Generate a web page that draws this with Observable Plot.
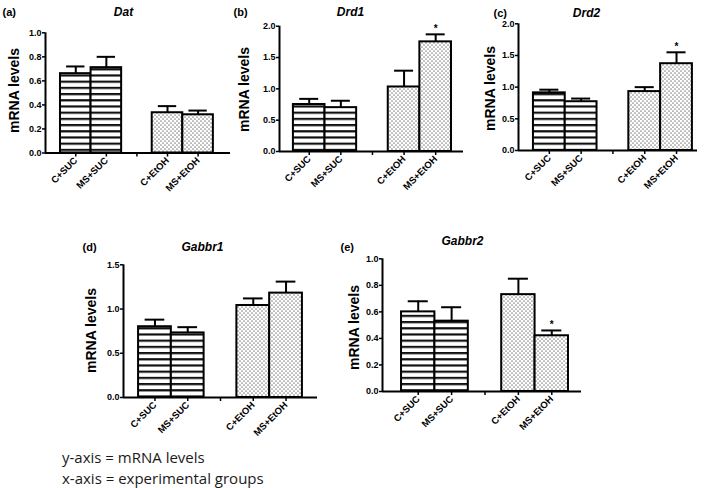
<!DOCTYPE html>
<html><head><meta charset="utf-8">
<script src="https://cdn.jsdelivr.net/npm/d3@7"></script>
<script src="https://cdn.jsdelivr.net/npm/@observablehq/plot@0.6"></script>
<style>
html,body{margin:0;padding:0;background:#fff;}
#chart{position:relative;width:709px;height:488px;overflow:hidden;background:#fff;}
.panel{position:absolute;}
.note{position:absolute;left:62px;font-family:"Open Sans",sans-serif;font-size:15px;color:#1a1a1a;white-space:nowrap;line-height:15px;}
</style></head><body>
<div id="chart">
<svg width="0" height="0" style="position:absolute;left:0;top:0"><defs>
<pattern id="hstripes" patternUnits="userSpaceOnUse" width="8" height="6.2"><rect width="8" height="6.2" fill="#fff"/><rect y="0" width="8" height="2.2" fill="#111"/></pattern>
<pattern id="dots" patternUnits="userSpaceOnUse" width="4" height="4"><rect width="4" height="4" fill="#fff"/><circle cx="1" cy="1" r="0.85" fill="#8a8a8a"/><circle cx="3" cy="3" r="0.85" fill="#8a8a8a"/></pattern>
</defs></svg>
<div class="note" style="top:450px">y-axis = mRNA levels</div>
<div class="note" style="top:471px">x-axis = experimental groups</div>
</div>
<script>
// ---- data ----
const groups = ["C+SUC", "MS+SUC", "C+EtOH", "MS+EtOH"];
const slotOf = [0, 1, 3, 4];           // slot 2 is the gap between the two groups
const yLabel = "mRNA levels";

const genes = ["Dat", "Drd1", "Drd2", "Gabbr1", "Gabbr2"];
const letters = ["(a)", "(b)", "(c)", "(d)", "(e)"];

const datMean = [0.66, 0.71, 0.335, 0.318];
const datSem  = [0.06, 0.09, 0.055, 0.035];
const datSig  = [false, false, false, false];

const drd1Mean = [0.75, 0.70, 1.03, 1.75];
const drd1Sem  = [0.09, 0.11, 0.26, 0.12];
const drd1Sig  = [false, false, false, true];

const drd2Mean = [0.91, 0.77, 0.93, 1.37];
const drd2Sem  = [0.05, 0.05, 0.07, 0.18];
const drd2Sig  = [false, false, false, true];

const gabbr1Mean = [0.80, 0.73, 1.04, 1.18];
const gabbr1Sem  = [0.08, 0.065, 0.08, 0.13];
const gabbr1Sig  = [false, false, false, false];

const gabbr2Mean = [0.60, 0.53, 0.73, 0.42];
const gabbr2Sem  = [0.08, 0.105, 0.12, 0.04];
const gabbr2Sig  = [false, false, false, true];

const ticks10 = [0, 0.2, 0.4, 0.6, 0.8, 1.0];
const ticks20 = [0, 0.5, 1.0, 1.5, 2.0];
const ticks15 = [0, 0.5, 1.0, 1.5];

// ---- layout ----
const panels = [
  {gene: genes[0], letter: letters[0], mean: datMean, sem: datSem, sig: datSig, ymax: 1, yTicks: ticks10,
   left: 0, top: 0, axisX0: 45, axisX1: 230, yTop: 32.3, baseline: 152.5, xDomain: [-0.99, 5.06],
   letterPos: [2, 12], titlePos: [123, 12], ylabPos: [14, 90]},
  {gene: genes[1], letter: letters[1], mean: drd1Mean, sem: drd1Sem, sig: drd1Sig, ymax: 2, yTicks: ticks20,
   left: 231, top: 0, axisX0: 279, axisX1: 463, yTop: 25.7, baseline: 151, xDomain: [-0.94, 4.88],
   letterPos: [233, 12], titlePos: [350, 12], ylabPos: [244, 89]},
  {gene: genes[2], letter: letters[2], mean: drd2Mean, sem: drd2Sem, sig: drd2Sig, ymax: 2, yTicks: ticks20,
   left: 478, top: 0, axisX0: 518, axisX1: 697, yTop: 23.3, baseline: 150, xDomain: [-0.97, 4.66],
   letterPos: [493, 13], titlePos: [586, 13], ylabPos: [490, 88]},
  {gene: genes[3], letter: letters[3], mean: gabbr1Mean, sem: gabbr1Sem, sig: gabbr1Sig, ymax: 1.5, yTicks: ticks15,
   left: 75, top: 228, axisX0: 123, axisX1: 317, yTop: 264.3, baseline: 397, xDomain: [-0.96, 4.96],
   letterPos: [82, 247], titlePos: [202, 247], ylabPos: [91, 330]},
  {gene: genes[4], letter: letters[4], mean: gabbr2Mean, sem: gabbr2Sem, sig: gabbr2Sig, ymax: 1, yTicks: ticks10,
   left: 335, top: 228, axisX0: 382, axisX1: 581, yTop: 258.3, baseline: 391, xDomain: [-1.07, 4.89],
   letterPos: [340, 247], titlePos: [462, 241], ylabPos: [354, 327]}
];

const FONT = "Liberation Sans, Arial, sans-serif";
const chart = document.getElementById("chart");

for (const p of panels) {
  const data = groups.map((g, i) => ({group: g, slot: slotOf[i], mean: p.mean[i], sem: p.sem[i], sig: p.sig[i], suc: i < 2}));
  const marginLeft = p.axisX0 - p.left;
  const marginTop = p.yTop - p.top;
  const marginRight = 3, marginBottom = 50;
  const width = p.axisX1 - p.left + marginRight;
  const height = p.baseline - p.top + marginBottom;
  const off = ([px, py]) => ({dx: px - p.axisX0, dy: py - p.yTop});

  const svg = Plot.plot({
    width, height, marginLeft, marginTop, marginRight, marginBottom,
    style: {background: "transparent", fontFamily: FONT, fontWeight: "bold", color: "#000", overflow: "visible"},
    x: {domain: p.xDomain},
    y: {domain: [0, p.ymax]},
    marks: [
      Plot.rectY(data.filter(d => d.suc), {x1: d => d.slot - 0.5, x2: d => d.slot + 0.5, y: "mean",
        fill: "url(#hstripes)", stroke: "#000", strokeWidth: 2}),
      Plot.rectY(data.filter(d => !d.suc), {x1: d => d.slot - 0.5, x2: d => d.slot + 0.5, y: "mean",
        fill: "url(#dots)", stroke: "#000", strokeWidth: 2}),
      Plot.ruleX(data, {x: "slot", y1: "mean", y2: d => d.mean + d.sem, stroke: "#000", strokeWidth: 2}),
      Plot.ruleY(data, {y: d => d.mean + d.sem, x1: d => d.slot - 0.3, x2: d => d.slot + 0.3, stroke: "#000", strokeWidth: 2}),
      Plot.text(data.filter(d => d.sig), {x: "slot", y: d => d.mean + d.sem, text: () => "*",
        lineAnchor: "bottom", dy: -2, fontSize: 10, fontWeight: "bold"}),
      Plot.ruleY([0], {stroke: "#000", strokeWidth: 2}),
      Plot.ruleX([p.xDomain[0]], {stroke: "#000", strokeWidth: 2}),
      Plot.axisY({ticks: p.yTicks, tickFormat: d3.format(".1f"), tickSize: 3, tickPadding: 1,
        strokeWidth: 1.5, fontSize: 9, fontWeight: "bold", label: null}),
      Plot.axisX({ticks: [0, 1, 2, 3, 4], tickFormat: s => { const i = slotOf.indexOf(s); return i < 0 ? "" : groups[i]; },
        tickRotate: -45, tickSize: 4, tickPadding: 2, strokeWidth: 1.5, fontSize: 9.5, fontWeight: "bold", label: null}),
      Plot.text([p.letter], {frameAnchor: "top-left", text: d => d, textAnchor: "start", lineAnchor: "middle",
        ...off(p.letterPos), fontSize: 11, fontWeight: "bold"}),
      Plot.text([p.gene], {frameAnchor: "top-left", text: d => d, textAnchor: "middle", lineAnchor: "middle",
        ...off(p.titlePos), fontSize: 12, fontWeight: "bold", fontStyle: "italic"}),
      Plot.text([yLabel], {frameAnchor: "top-left", text: d => d, textAnchor: "middle", lineAnchor: "middle",
        rotate: -90, ...off(p.ylabPos), fontSize: 14, fontWeight: "bold"})
    ]
  });
  svg.classList.add("panel");
  svg.style.left = p.left + "px";
  svg.style.top = p.top + "px";
  svg.style.position = "absolute";
  svg.style.maxWidth = "none";
  chart.appendChild(svg);
}
</script>
</body></html>
